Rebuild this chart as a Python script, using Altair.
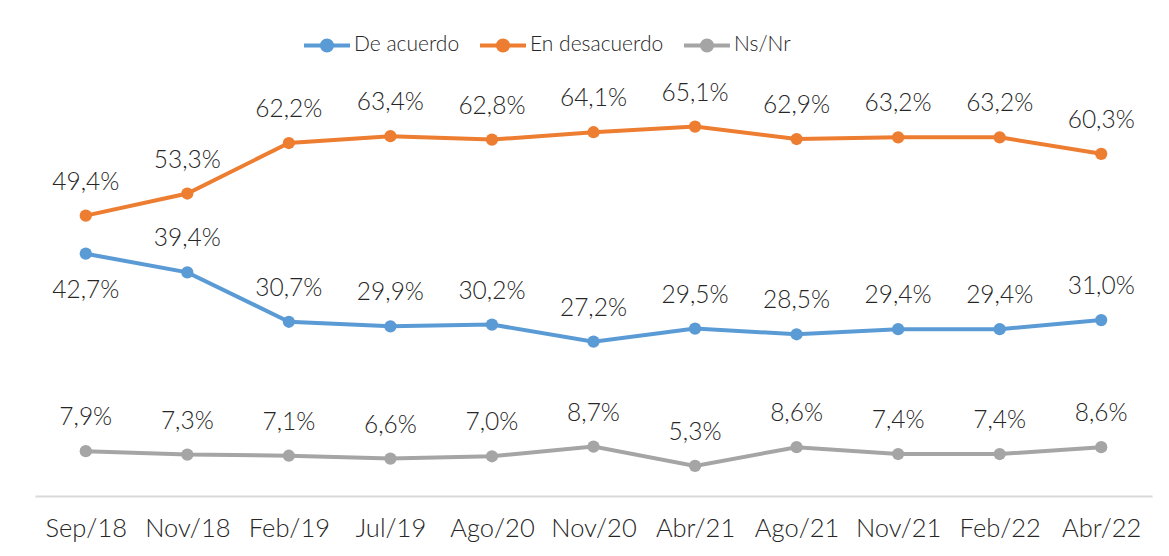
import altair as alt
import pandas as pd

periods = ["Sep/18", "Nov/18", "Feb/19", "Jul/19", "Ago/20", "Nov/20",
           "Abr/21", "Ago/21", "Nov/21", "Feb/22", "Abr/22"]
de_acuerdo = [42.7, 39.4, 30.7, 29.9, 30.2, 27.2, 29.5, 28.5, 29.4, 29.4, 31.0]
en_desacuerdo = [49.4, 53.3, 62.2, 63.4, 62.8, 64.1, 65.1, 62.9, 63.2, 63.2, 60.3]
ns_nr = [7.9, 7.3, 7.1, 6.6, 7.0, 8.7, 5.3, 8.6, 7.4, 7.4, 8.6]

series_names = ["De acuerdo", "En desacuerdo", "Ns/Nr"]
series_colors = ["#5B9BD5", "#ED7D31", "#A5A5A5"]

rows = []
for name, vals in zip(series_names, [de_acuerdo, en_desacuerdo, ns_nr]):
    for i, (p, v) in enumerate(zip(periods, vals)):
        rows.append({"periodo": p, "serie": name, "valor": v, "idx": i})
df = pd.DataFrame(rows)

FONT = "Lato"
TXT = "#262626"
FW = 300

x = alt.X("periodo:N", sort=periods,
          scale=alt.Scale(type="point", padding=0.5),
          axis=alt.Axis(title=None, domain=True, domainColor="#D9D9D9", domainWidth=2,
                        ticks=False, labelAngle=0, labelFont=FONT, labelFontSize=25.5,
                        labelFontWeight=FW,
                        labelColor=TXT, labelPadding=20, grid=False))
y = alt.Y("valor:Q", scale=alt.Scale(domain=[0, 80], nice=False, zero=True),
          axis=None)
color = alt.Color("serie:N",
                  scale=alt.Scale(domain=series_names, range=series_colors),
                  legend=alt.Legend(
                      title=None, orient="none", direction="horizontal",
                      legendX=267, legendY=-22,
                      symbolType="M-1,0L1,0M-0.22,0A0.22,0.22,0,1,1,0.22,0A0.22,0.22,0,1,1,-0.22,0Z",
                      symbolSize=2116, symbolStrokeWidth=4,
                      labelFont=FONT, labelFontSize=21, labelColor=TXT,
                      labelFontWeight=FW,
                      labelOffset=2, columnPadding=12, padding=0))

base = alt.Chart(df)

lines = base.mark_line(strokeWidth=4, point=alt.OverlayMarkDef(size=150, filled=True)).encode(
    x=x, y=y, color=color)

label_expr = "replace(format(datum.valor, '.1f'), '.', ',') + '%'"

labels_above = base.transform_filter(
    "!(datum.serie == 'De acuerdo' && datum.idx == 0)"
).transform_calculate(lbl=label_expr).mark_text(
    font=FONT, fontSize=24.5, fontWeight=FW, color=TXT, dy=-33
).encode(x=x, y=y, text="lbl:N")

labels_below = base.transform_filter(
    "datum.serie == 'De acuerdo' && datum.idx == 0"
).transform_calculate(lbl=label_expr).mark_text(
    font=FONT, fontSize=24.5, fontWeight=FW, color=TXT, dy=37
).encode(x=x, y=y, text="lbl:N")

chart = alt.layer(lines, labels_above, labels_below).properties(
    width=1117, height=454,
    background="white",
    autosize=alt.AutoSizeParams(type="none"),
    padding={"left": 27, "top": 34, "right": 9, "bottom": 52},
).configure_view(strokeWidth=0, stroke="transparent")

chart.save("out.html", embed_options={"renderer": "svg", "actions": False})
